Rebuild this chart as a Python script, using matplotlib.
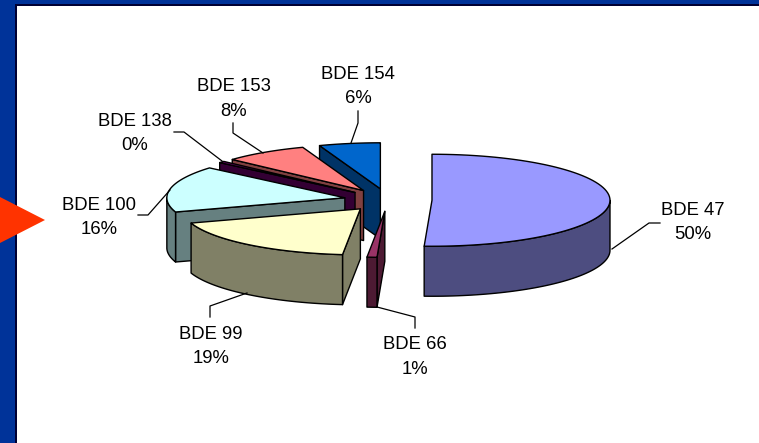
import numpy as np
import matplotlib
matplotlib.use("Agg")
import matplotlib.pyplot as plt
from matplotlib.patches import Polygon, Rectangle

plt.rcParams['font.family'] = ['Liberation Sans', 'DejaVu Sans']

# data, clockwise from 12 o'clock
names = ["BDE 47", "BDE 66", "BDE 99", "BDE 100", "BDE 138", "BDE 153", "BDE 154"]
values = [50.7, 0.9, 18.4, 16.25, 0.55, 7.65, 5.55]
pct_labels = ["50%", "1%", "19%", "16%", "0%", "8%", "6%"]
top_colors = ["#9999FF", "#993366", "#FFFFCC", "#CCFFFF", "#660066", "#FF8080", "#0066CC"]
side_colors = ["#4D4D80", "#4D1A33", "#808066", "#668080", "#330033", "#804040", "#003366"]

# label centre and leader line end, in pixels
label_pos = [(693, 222.5), (415, 357), (211, 346.5), (99, 217.5), (135, 133.5), (234, 99), (358, 86.5)]
leaders = [
    [(660, 223), (649, 223), (612, 249)],
    [(415, 328), (415, 317), (377, 307)],
    [(210, 317), (210, 306), (247, 293)],
    [(138, 215), (148, 215), (170, 190)],
    [(174, 132), (184, 132), (222, 161)],
    [(233, 123), (233, 133), (263, 153)],
    [(358, 111), (358, 123), (351, 143)],
]

cx, cy = 388, 200
rx, ry = 178, 46
explode = 44
depth = 50

fig = plt.figure(figsize=(7.59, 4.43), dpi=100)
ax = fig.add_axes([0, 0, 1, 1])
ax.set_xlim(0, 759)
ax.set_ylim(443, 0)
ax.axis("off")

# slide background
ax.add_patch(Rectangle((0, 0), 759, 443, fc="#003399", ec="none", zorder=0))
ax.add_patch(Rectangle((15, 4), 744, 439, fc="#000033", ec="none", zorder=1))
ax.add_patch(Rectangle((17, 6), 742, 437, fc="white", ec="none", zorder=2))
ax.add_patch(Polygon([(0, 197), (45, 220), (0, 243)], fc="#FF3300", ec="none", zorder=3))


def rim(theta, ox, oy):
    return ox + rx * np.sin(theta), oy - ry * np.cos(theta)


fracs = np.array(values) / sum(values)
ends = np.cumsum(fracs) * 2 * np.pi
starts = ends - fracs * 2 * np.pi

# painter's order: back slices first
for i in [6, 5, 4, 3, 2, 1, 0]:
    a0, a1 = starts[i], ends[i]
    mid = (a0 + a1) / 2
    ox = cx + explode * np.sin(mid)
    oy = cy - explode * ry / rx * np.cos(mid)
    z = 10 + (6 - i) * 3
    kw = dict(fc=side_colors[i], ec="black", lw=1.0, joinstyle="round", zorder=z)

    if np.sin(a1) > 0:
        x, y = rim(a1, ox, oy)
        ax.add_patch(Polygon([(ox, oy), (x, y), (x, y + depth), (ox, oy + depth)], **kw))
    if np.sin(a0) < 0:
        x, y = rim(a0, ox, oy)
        ax.add_patch(Polygon([(ox, oy), (x, y), (x, y + depth), (ox, oy + depth)], **kw))

    # outer wall, only the part facing the viewer
    lo, hi = max(a0, np.pi / 2), min(a1, 3 * np.pi / 2)
    if hi > lo:
        t = np.linspace(lo, hi, 60)
        x, y = rim(t, ox, oy)
        wall = np.r_[np.c_[x, y], np.c_[x, y + depth][::-1]]
        ax.add_patch(Polygon(wall, **kw))

    t = np.linspace(a0, a1, 80)
    x, y = rim(t, ox, oy)
    top = np.r_[[[ox, oy]], np.c_[x, y]]
    ax.add_patch(Polygon(top, fc=top_colors[i], ec="black", lw=1.0, joinstyle="round", zorder=z + 1))

for name, pct, pos, pts in zip(names, pct_labels, label_pos, leaders):
    ax.text(pos[0], pos[1], name + "\n" + pct, ha="center", va="center", fontsize=13.3,
            linespacing=1.6, color="black", zorder=40)
    p = np.array(pts)
    ax.plot(p[:, 0], p[:, 1], color="black", lw=0.9, zorder=39)

fig.savefig("out.png", dpi=100)
